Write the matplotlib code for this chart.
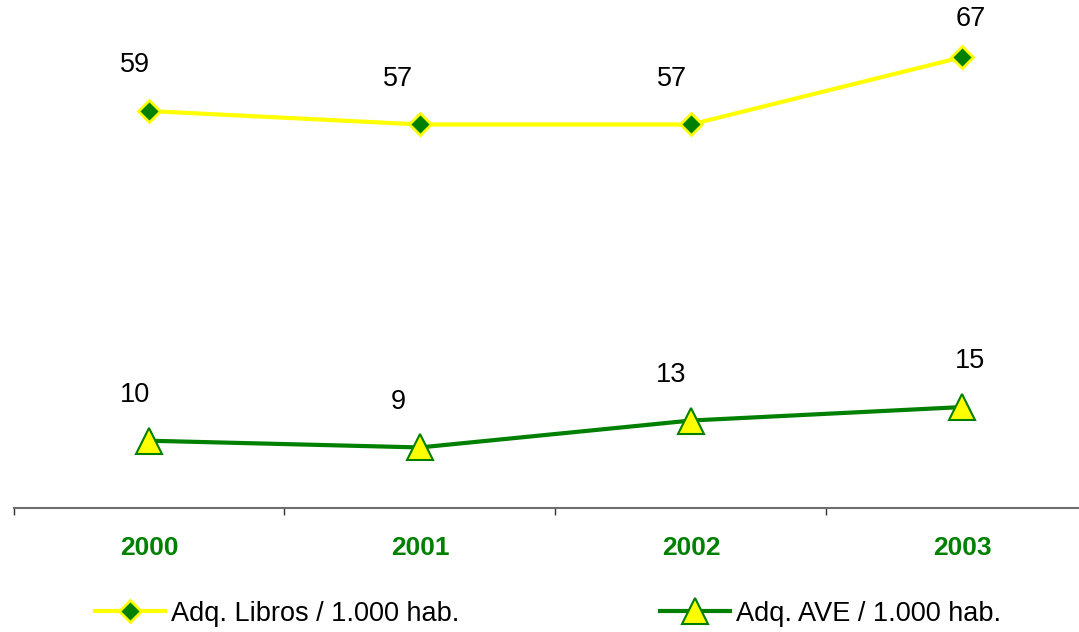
import numpy as np
import matplotlib
matplotlib.use('Agg')
import matplotlib.pyplot as plt

plt.rcParams['font.family'] = ['Liberation Sans', 'DejaVu Sans']

years = ['2000', '2001', '2002', '2003']
libros = [59, 57, 57, 67]
ave = [10, 9, 13, 15]

GREEN = '#008000'
YELLOW = '#FFFF00'

fig = plt.figure(figsize=(10.79, 6.32), dpi=100)
ax = fig.add_axes([13.5 / 1079, 124 / 632, 1084 / 1079, 471 / 632])

x = np.arange(len(years))

ax.plot(x, libros, color=YELLOW, lw=3, marker='D', markersize=11.5,
        markerfacecolor=GREEN, markeredgecolor=YELLOW, markeredgewidth=2,
        label='Adq. Libros / 1.000 hab.', zorder=3)
ax.plot(x, ave, color=GREEN, lw=3, marker='^', markersize=19,
        markerfacecolor=YELLOW, markeredgecolor=GREEN, markeredgewidth=1.5,
        label='Adq. AVE / 1.000 hab.', zorder=3)

# data labels, sitting above and a bit left of each point
label_dx = [-10, -16, -14, 6]
labels = []
for series in (libros, ave):
    for i, v in enumerate(series):
        t = ax.annotate(str(v), (x[i], v), xytext=(label_dx[i], 28),
                        textcoords='offset points', ha='center', va='baseline',
                        fontsize=19.5, color='black', annotation_clip=False)
        labels.append(t)

ax.set_xlim(-0.5, 3.5)
ax.set_ylim(0, 70)
ax.set_yticks([])
for s in ('left', 'top', 'right'):
    ax.spines[s].set_visible(False)
ax.spines['bottom'].set_color('#6e6e6e')
ax.spines['bottom'].set_linewidth(1.5)

ax.set_xticks(x)
ax.set_xticklabels(years, fontsize=19, fontweight='bold', color=GREEN)
ax.tick_params(axis='x', which='major', length=0, pad=20)
ax.set_xticks(np.arange(-0.5, 4, 1), minor=True)
ax.tick_params(axis='x', which='minor', length=5, width=1, color='#333333')

fig.legend(loc='center', bbox_to_anchor=(0.508, 0.029), ncol=2, frameon=False,
           fontsize=19.5, handlelength=2.6, handletextpad=0.22,
           columnspacing=7.4)

# push labels that run off the top back inside, like Excel does
fig.canvas.draw()
r = fig.canvas.get_renderer()
top = fig.bbox.height - 6
for t in labels:
    bb = t.get_window_extent(r)
    if bb.y1 > top:
        dx, dy = t.xyann
        t.xyann = (dx, dy - (bb.y1 - top) * 72 / fig.dpi)

fig.savefig('out.png', dpi=100)
